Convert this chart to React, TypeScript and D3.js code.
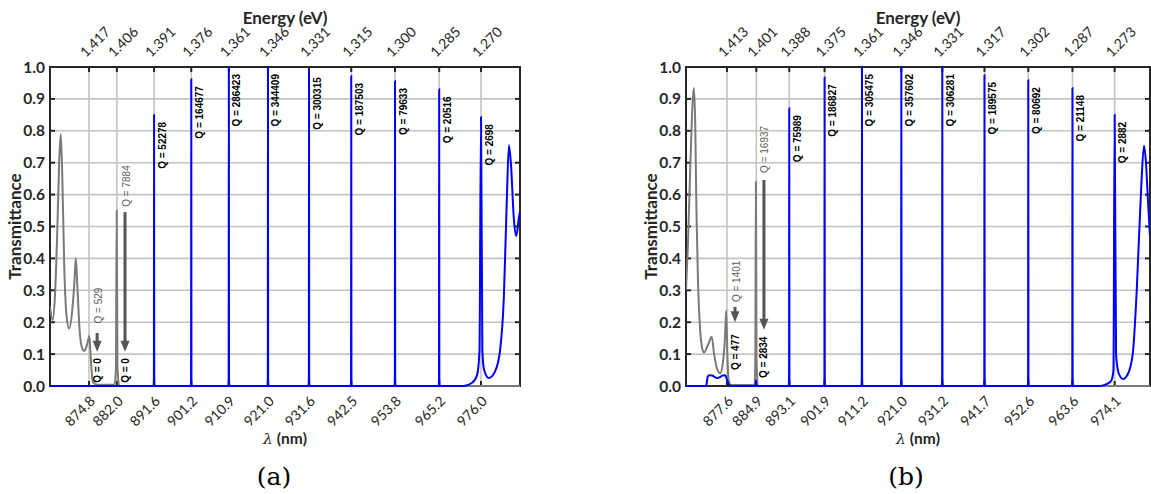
import React from "react";
import * as d3 from "d3";

// ---------- Panel (a) data ----------
const lambdaTicksA = [874.8, 882.0, 891.6, 901.2, 910.9, 921.0, 931.6, 942.5, 953.8, 965.2, 976.0];
const energyLabelsA = ["1.417", "1.406", "1.391", "1.376", "1.361", "1.346", "1.331", "1.315", "1.300", "1.285", "1.270"];
const peakLambdaA = [891.6, 901.2, 910.9, 921.0, 931.6, 942.5, 953.8, 965.2, 976.0];
const peakTA = [0.85, 0.962, 1.0, 1.0, 0.99, 0.972, 0.956, 0.93, 0.843];
const peakQA = ["52278", "164677", "286423", "344409", "300315", "187503", "79633", "20516", "2698"];
// gray (uncoupled / lossy) trace
const grayA: [number, number][] = [
  [864.7, 0.25], [865.4, 0.207], [866.0, 0.28], [866.6, 0.48], [867.1, 0.7], [867.5, 0.79], [867.9, 0.66],
  [868.4, 0.38], [869.0, 0.22], [869.7, 0.18], [870.5, 0.24], [871.0, 0.32], [871.4, 0.40], [871.8, 0.31],
  [872.4, 0.17], [873.0, 0.12], [873.6, 0.11], [874.3, 0.13], [874.9, 0.157], [875.3, 0.08], [875.8, 0.012],
  [877.0, 0.004], [881.4, 0.004], [881.75, 0.06], [881.95, 0.55], [882.15, 0.06], [882.6, 0.0], [986.1, 0.0],
];
// blue trace: end region (wide resonance and band edge)
const blueTailA: [number, number][] = [
  [971.5, 0.0], [973.7, 0.01], [975.0, 0.035], [975.6, 0.11], [976.0, 0.843], [976.35, 0.11], [976.8, 0.05],
  [978.0, 0.025], [979.6, 0.045], [980.9, 0.11], [981.9, 0.28], [982.7, 0.6], [983.2, 0.755], [983.7, 0.7],
  [984.5, 0.52], [985.1, 0.47], [985.8, 0.53], [986.1, 0.55],
];
const blueHeadA: [number, number][] = [[864.7, 0], [871.0, 0]];
const arrowLambdaA = [876.9, 884.1];
const arrowTopA = [0.166, 0.545];
const arrowTipA = [0.107, 0.107];
const arrowQA = ["529", "7884"];
const arrowQStartA = [0.196, 0.562];
const arrowLowQA = ["0", "0"];
const arrowLowStartA = [0.01, 0.01];

// ---------- Panel (b) data ----------
const lambdaTicksB = [877.6, 884.9, 893.1, 901.9, 911.2, 921.0, 931.2, 941.7, 952.6, 963.6, 974.1];
const energyLabelsB = ["1.413", "1.401", "1.388", "1.375", "1.361", "1.346", "1.331", "1.317", "1.302", "1.287", "1.273"];
const peakLambdaB = [893.1, 901.9, 911.2, 921.0, 931.2, 941.7, 952.6, 963.6, 974.1];
const peakTB = [0.871, 0.968, 1.0, 1.0, 1.0, 0.975, 0.959, 0.934, 0.85];
const peakQB = ["75989", "186827", "305475", "357602", "306281", "189575", "80692", "21148", "2882"];
const grayB: [number, number][] = [
  [867.4, 0.30], [867.9, 0.45], [868.5, 0.7], [869.1, 0.9], [869.4, 0.934], [869.7, 0.82], [870.0, 0.55],
  [870.4, 0.32], [870.9, 0.18], [871.4, 0.12], [871.9, 0.105], [872.9, 0.13], [873.8, 0.154], [874.4, 0.1],
  [875.1, 0.055], [875.9, 0.04], [876.6, 0.075], [877.1, 0.15], [877.4, 0.237], [877.7, 0.1], [878.0, 0.02],
  [878.6, 0.003], [884.5, 0.003], [884.65, 0.08], [884.8, 0.64], [884.95, 0.08], [885.3, 0.0], [982.9, 0.0],
];
const blueHeadB: [number, number][] = [
  [867.4, 0], [872.4, 0], [872.6, 0.012], [872.8, 0.03], [873.2, 0.034], [873.9, 0.033], [874.6, 0.028],
  [875.3, 0.025], [876.0, 0.029], [876.7, 0.034], [877.2, 0.033], [877.6, 0.02], [878.0, 0.006], [878.6, 0],
  [884.5, 0], [884.7, 0.004], [884.8, 0.018], [884.9, 0.004], [885.2, 0],
];
const blueTailB: [number, number][] = [
  [970.4, 0.0], [971.9, 0.005], [973.2, 0.015], [973.8, 0.05], [974.1, 0.85], [974.45, 0.1], [975.1, 0.04],
  [976.2, 0.022], [977.3, 0.035], [978.6, 0.1], [979.6, 0.3], [980.7, 0.62], [981.4, 0.753], [981.9, 0.7],
  [982.4, 0.58], [982.9, 0.47],
];
const arrowLambdaB = [879.6, 886.8];
const arrowTopB = [0.248, 0.646];
const arrowTipB = [0.2, 0.176];
const arrowQB = ["1401", "16937"];
const arrowQStartB = [0.263, 0.668];
const arrowLowQB = ["477", "2834"];
const arrowLowStartB = [0.05, 0.025];

const yTicks = [0, 0.1, 0.2, 0.3, 0.4, 0.5, 0.6, 0.7, 0.8, 0.9, 1.0];

const TOP = 67;
const BOTTOM = 386;
const AX = "#262626";
const GRID = "#c4c4c4";
const FONT = "Lato, 'Open Sans', sans-serif";
const QFONT = "'Liberation Sans', Arial, sans-serif";

type Cfg = {
  id: string;
  left: number;
  right: number;
  domain: [number, number];
  ticks: number[];
  energies: string[];
  peakL: number[];
  peakT: number[];
  peakQ: string[];
  gray: [number, number][];
  blueHead: [number, number][];
  blueTail: [number, number][];
  arrowL: number[];
  arrowTop: number[];
  arrowTip: number[];
  arrowQ: string[];
  arrowQStart: number[];
  lowQ: string[];
  lowStart: number[];
  tag: string;
  tagX: number;
  ylabelX: number;
};

function Panel({ c }: { c: Cfg }) {
  const x = d3.scaleLinear().domain(c.domain).range([c.left, c.right]);
  const y = d3.scaleLinear().domain([0, 1]).range([BOTTOM, TOP]);
  const line = d3
    .line<[number, number]>()
    .x((d) => x(d[0]))
    .y((d) => y(d[1]))
    .curve(d3.curveMonotoneX);
  const lastPeak = c.peakL[c.peakL.length - 1];
  const blue: [number, number][] = [...c.blueHead];
  c.peakL.forEach((l, i) => {
    if (l === lastPeak) return;
    blue.push([l - 0.12, 0], [l - 0.04, 0.03], [l, c.peakT[i]], [l + 0.04, 0.03], [l + 0.12, 0]);
  });
  blue.push(...c.blueTail);
  const midX = (c.left + c.right) / 2;
  const yf = d3.format(".1f");
  return (
    <g>
      <defs>
        <clipPath id={"clip" + c.id}>
          <rect x={c.left} y={TOP - 1} width={c.right - c.left} height={BOTTOM - TOP + 3} />
        </clipPath>
      </defs>
      {/* grid */}
      {yTicks.map((t) => (
        <line key={"h" + t} x1={c.left} x2={c.right} y1={y(t)} y2={y(t)} stroke={GRID} strokeWidth={1.6} />
      ))}
      {c.ticks.map((t) => (
        <line key={"v" + t} x1={x(t)} x2={x(t)} y1={TOP} y2={BOTTOM} stroke={GRID} strokeWidth={1.6} />
      ))}
      {/* axes box */}
      <rect x={c.left} y={TOP} width={c.right - c.left} height={BOTTOM - TOP} fill="none" stroke={AX} strokeWidth={2} />
      {c.ticks.map((t) => (
        <g key={"tk" + t}>
          <line x1={x(t)} x2={x(t)} y1={TOP} y2={TOP + 5} stroke={AX} strokeWidth={2} />
          <line x1={x(t)} x2={x(t)} y1={BOTTOM} y2={BOTTOM - 5} stroke={AX} strokeWidth={2} />
        </g>
      ))}
      {yTicks.map((t) => (
        <g key={"yt" + t}>
          <line x1={c.left} x2={c.left + 5} y1={y(t)} y2={y(t)} stroke={AX} strokeWidth={2} />
          <line x1={c.right} x2={c.right - 5} y1={y(t)} y2={y(t)} stroke={AX} strokeWidth={2} />
          <text x={c.left - 5} y={y(t) + 5.5} textAnchor="end" fontFamily={FONT} fontWeight="bold" fontSize={15.5} fill={AX}>
            {yf(t)}
          </text>
        </g>
      ))}
      {/* curves */}
      <g clipPath={`url(#clip${c.id})`}>
        <path d={line(c.gray) ?? ""} fill="none" stroke="#7a7a7a" strokeWidth={2} />
        <path d={line(blue) ?? ""} fill="none" stroke="#0000ff" strokeWidth={2} />
      </g>
      {/* Q labels for resonances */}
      {c.peakL.map((l, i) => {
        const tx = x(l) + 11.5;
        const ty = y(c.peakT[i]) + 7;
        return (
          <text key={"q" + l} transform={`translate(${tx},${ty}) rotate(-90)`} textAnchor="end" fontFamily={QFONT} fontWeight="bold" fontSize={10} fill="#000">
            {"Q = " + c.peakQ[i]}
          </text>
        );
      })}
      {/* arrows */}
      {c.arrowL.map((l, i) => {
        const ax = x(l);
        const tipY = y(c.arrowTip[i]);
        const topY = y(c.arrowTop[i]);
        return (
          <g key={"ar" + l}>
            <line x1={ax} x2={ax} y1={topY} y2={tipY - 9} stroke="#555" strokeWidth={3} />
            <polygon points={`${ax - 4.5},${tipY - 11} ${ax + 4.5},${tipY - 11} ${ax},${tipY}`} fill="#555" />
            <text transform={`translate(${ax + 4.5},${y(c.arrowQStart[i])}) rotate(-90)`} fontFamily={QFONT} fontSize={10} fill="#5e5e5e">
              {"Q = " + c.arrowQ[i]}
            </text>
            <text transform={`translate(${ax + 3.5},${y(c.lowStart[i])}) rotate(-90)`} fontFamily={QFONT} fontWeight="bold" fontSize={10} fill="#000">
              {"Q = " + c.lowQ[i]}
            </text>
          </g>
        );
      })}
      {/* top energy labels */}
      {c.ticks.map((t, i) => (
        <text key={"e" + t} transform={`translate(${x(t) - 3},${TOP - 9}) rotate(-45)`} fontFamily={FONT} fontSize={14} fill={AX}>
          {c.energies[i]}
        </text>
      ))}
      {/* bottom wavelength labels */}
      {c.ticks.map((t) => (
        <text key={"l" + t} transform={`translate(${x(t) + 7},${BOTTOM + 16}) rotate(-45)`} textAnchor="end" fontFamily={FONT} fontSize={14} fill={AX}>
          {t.toFixed(1)}
        </text>
      ))}
      <text x={midX} y={24} textAnchor="middle" fontFamily={FONT} fontWeight="bold" fontSize={17} fill={AX}>
        Energy (eV)
      </text>
      <text x={midX} y={444} textAnchor="middle" fontFamily={FONT} fontWeight="bold" fontSize={15.5} fill={AX}>
        <tspan fontStyle="italic" fontWeight="normal" fontFamily="'DejaVu Serif', serif">λ</tspan> (nm)
      </text>
      <text transform={`translate(${c.ylabelX},${(TOP + BOTTOM) / 2}) rotate(-90)`} textAnchor="middle" fontFamily={FONT} fontWeight="bold" fontSize={17} fill={AX}>
        Transmittance
      </text>
      <text x={c.tagX} y={485} textAnchor="middle" fontFamily="'DejaVu Serif', 'Liberation Serif', serif" fontSize={25} fill="#000">
        {c.tag}
      </text>
    </g>
  );
}

const cfgA: Cfg = {
  id: "a",
  left: 50,
  right: 520,
  domain: [864.733, 986.063],
  ticks: lambdaTicksA,
  energies: energyLabelsA,
  peakL: peakLambdaA,
  peakT: peakTA,
  peakQ: peakQA,
  gray: grayA,
  blueHead: blueHeadA,
  blueTail: blueTailA,
  arrowL: arrowLambdaA,
  arrowTop: arrowTopA,
  arrowTip: arrowTipA,
  arrowQ: arrowQA,
  arrowQStart: arrowQStartA,
  lowQ: arrowLowQA,
  lowStart: arrowLowStartA,
  tag: "(a)",
  tagX: 274,
  ylabelX: 21,
};

const cfgB: Cfg = {
  id: "b",
  left: 686,
  right: 1150,
  domain: [867.4, 982.9],
  ticks: lambdaTicksB,
  energies: energyLabelsB,
  peakL: peakLambdaB,
  peakT: peakTB,
  peakQ: peakQB,
  gray: grayB,
  blueHead: blueHeadB,
  blueTail: blueTailB,
  arrowL: arrowLambdaB,
  arrowTop: arrowTopB,
  arrowTip: arrowTipB,
  arrowQ: arrowQB,
  arrowQStart: arrowQStartB,
  lowQ: arrowLowQB,
  lowStart: arrowLowStartB,
  tag: "(b)",
  tagX: 906,
  ylabelX: 657,
};

export default function App() {
  return (
    <svg width={1151} height={494} style={{ position: "absolute", left: 0, top: 0, background: "#fff" }}>
      <rect width={1151} height={494} fill="#fff" />
      <Panel c={cfgA} />
      <Panel c={cfgB} />
    </svg>
  );
}
